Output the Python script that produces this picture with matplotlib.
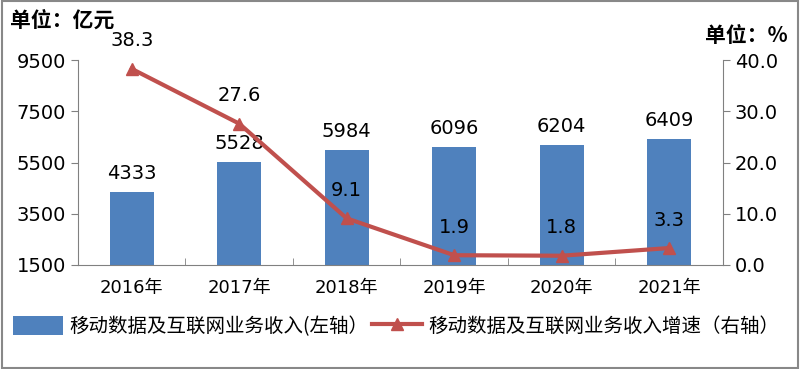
import matplotlib.pyplot as plt
from matplotlib.patches import Rectangle

plt.rcParams['font.family'] = ['DejaVu Sans', 'Noto Sans CJK SC']

years = ["2016年", "2017年", "2018年", "2019年", "2020年", "2021年"]
revenue = [4333, 5528, 5984, 6096, 6204, 6409]
growth = [38.3, 27.6, 9.1, 1.9, 1.8, 3.3]

bar_color = "#4F81BD"
line_color = "#C0504D"
spine_color = "#808080"
cjk = ['Noto Sans CJK SC', 'DejaVu Sans']

fig = plt.figure(figsize=(8, 3.69), dpi=100)
ax = fig.add_axes([0.0975, 0.282, 0.806, 0.555])
ax2 = ax.twinx()

x = list(range(len(years)))
ax.bar(x, revenue, width=0.41, color=bar_color, zorder=2,
       label="移动数据及互联网业务收入(左轴）")
for xi, v in zip(x, revenue):
    ax.text(xi, v + 350, str(v), ha="center", va="bottom", fontsize=14)

ax.set_ylim(1500, 9500)
ax.set_yticks([1500, 3500, 5500, 7500, 9500])
ax.set_xlim(-0.5, len(years) - 0.5)
ax.set_xticks(x)
ax.set_xticklabels(years, fontsize=13)
ax.set_xticks([i + 0.5 for i in range(len(years) - 1)], minor=True)
ax.tick_params(axis="x", which="major", length=0, pad=10)
ax.tick_params(axis="x", which="minor", direction="in", length=5, color=spine_color)
ax.tick_params(axis="y", labelsize=14, color=spine_color, length=5)

ax2.plot(x, growth, color=line_color, lw=3, marker="^", markersize=9, zorder=3,
         label="移动数据及互联网业务收入增速（右轴）")
for xi, v in zip(x, growth):
    ax2.text(xi, v + 3.6, f"{v}", ha="center", va="bottom", fontsize=14)
ax2.set_ylim(0, 40)
ax2.set_yticks([0, 10, 20, 30, 40])
ax2.set_yticklabels(["0.0", "10.0", "20.0", "30.0", "40.0"])
ax2.tick_params(axis="y", labelsize=14, color=spine_color, length=5)

for a in (ax, ax2):
    a.spines["top"].set_visible(False)
    for s in ("left", "right", "bottom"):
        a.spines[s].set_color(spine_color)
ax.spines["right"].set_visible(False)
ax2.spines["left"].set_visible(False)
ax2.spines["bottom"].set_visible(False)

fig.text(0.012, 0.945, "单位：亿元", fontsize=15, fontweight="bold",
         family=cjk, va="center")
fig.text(0.985, 0.905, "单位：%", fontsize=15, fontweight="bold",
         family=cjk, va="center", ha="right")

h1, l1 = ax.get_legend_handles_labels()
h2, l2 = ax2.get_legend_handles_labels()
fig.legend(h1 + h2, l1 + l2, loc="center", bbox_to_anchor=(0.495, 0.115), ncol=2,
           frameon=False, prop={'family': cjk, 'size': 14},
           handlelength=2.6, handleheight=1.1, columnspacing=0.2, handletextpad=0.3)

fig.patches.append(Rectangle((0.002, 0.003), 0.995, 0.993, transform=fig.transFigure,
                             fill=False, edgecolor="#888888", lw=1.5))

fig.savefig("out.png", dpi=100)
